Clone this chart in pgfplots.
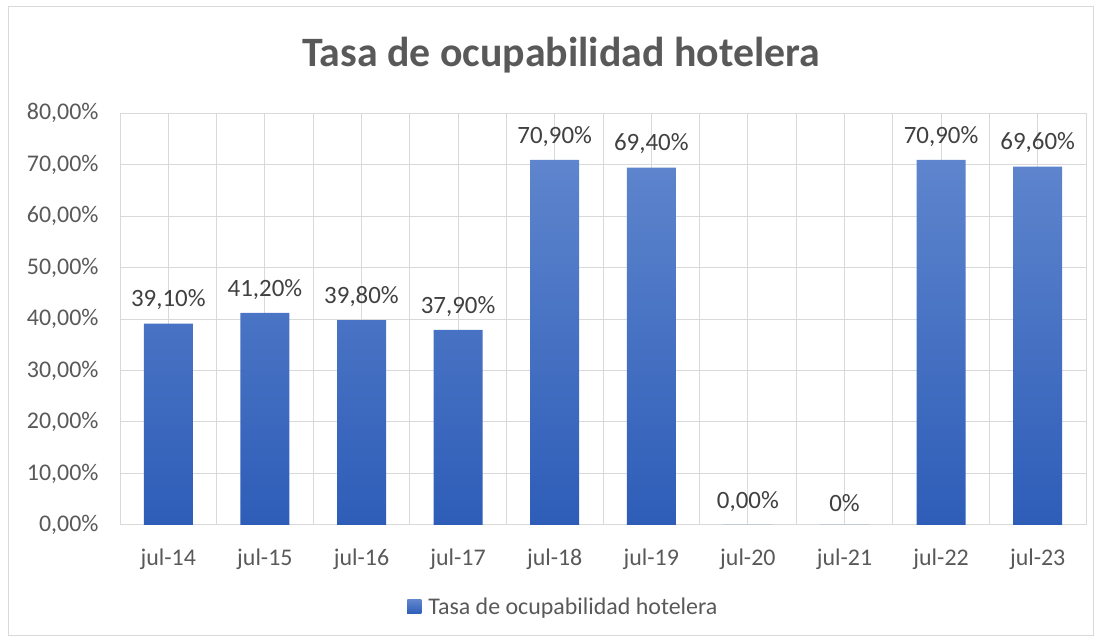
\documentclass[border=0pt]{standalone}
\usepackage{fontspec}
\setmainfont{Carlito}
\usepackage{pgfplots}
\pgfplotsset{compat=1.18}
\usepackage{pgfplotstable}
\definecolor{txt}{HTML}{595959}
\definecolor{lab}{HTML}{404040}
\definecolor{grd}{HTML}{D9D9D9}
\definecolor{bartop}{HTML}{5E85CD}
\definecolor{barbot}{HTML}{2E5DB8}
\pgfplotstableread{
x y lab
0 39.1 39,10
1 41.2 41,20
2 39.8 39,80
3 37.9 37,90
4 70.9 70,90
5 69.4 69,40
6 0.0 0,00
7 0.0 0
8 70.9 70,90
9 69.6 69,60
}\datatable
\begin{document}
\begin{tikzpicture}
\path[fill=white] (0,0) rectangle (1101bp,643bp);
\draw[grd, line width=1bp] (8bp,7bp) rectangle (1093bp,636bp);
\node[text=txt, font=\fontsize{42}{48}\selectfont\bfseries] at (561bp,588bp) {Tasa de ocupabilidad hotelera};
\begin{axis}[
  at={(120bp,118bp)}, anchor=south west,
  scale only axis, width=966bp, height=412bp,
  xmin=-0.5, xmax=9.5, ymin=0, ymax=80,
  xtick={0,...,9},
  xticklabels={jul-14,jul-15,jul-16,jul-17,jul-18,jul-19,jul-20,jul-21,jul-22,jul-23},
  minor xtick={-0.5,0.5,...,9.5},
  ytick={0,10,...,80},
  yticklabels={{0,00\%},{10,00\%},{20,00\%},{30,00\%},{40,00\%},{50,00\%},{60,00\%},{70,00\%},{80,00\%}},
  xmajorgrids, xminorgrids, ymajorgrids,
  grid style={grd, line width=1bp},
  minor grid style={grd, line width=1bp},
  axis line style={draw=none},
  major tick length=0pt, minor tick length=0pt,
  tick style={draw=none},
  ticklabel style={font=\fontsize{24}{28}\selectfont, text=txt},
  xticklabel style={yshift=-20bp},
  yticklabel style={xshift=-18bp},
  ybar, bar width=49bp,
  point meta=explicit symbolic,
  nodes near coords={\pgfplotspointmeta\%},
  every node near coord/.append style={font=\fontsize{25}{29}\selectfont, text=lab, yshift=10bp},
  legend style={at={(0.459,-0.199)}, anchor=center, draw=none, fill=none,
    font=\fontsize{24}{28}\selectfont, text=txt},
  legend image code/.code={\fill[bartop!55!barbot] (0bp,-7bp) rectangle (14bp,7bp); \path (19bp,0bp);},
]
\addplot[draw=none, top color=bartop, bottom color=barbot] table[x=x, y=y, meta=lab] {\datatable};
\addlegendentry{Tasa de ocupabilidad hotelera}
\end{axis}
\end{tikzpicture}
\end{document}
